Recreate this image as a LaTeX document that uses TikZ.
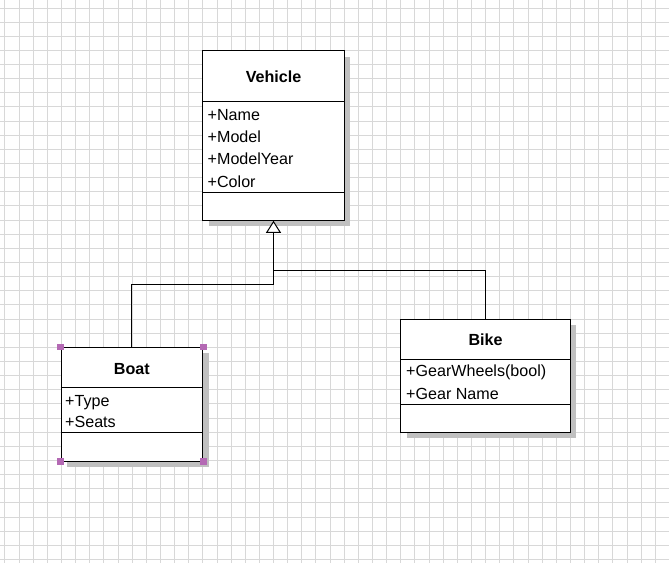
\documentclass[tikz,border=0pt]{standalone}
\usepackage{fontspec}
\setmainfont{Liberation Sans}
\usetikzlibrary{arrows.meta, shadows, calc}
\definecolor{GridGray}{HTML}{D8D8D8}
\definecolor{ShadowGray}{HTML}{C0C0C0}
\definecolor{HandlePurple}{HTML}{B469B4}

\begin{document}
\begin{tikzpicture}[
    x=1pt, y=-1pt,
    classbox/.style={rectangle, draw=black, fill=white, line width=1pt,
                     drop shadow={shadow xshift=6pt, shadow yshift=-6pt, fill=ShadowGray, opacity=1}},
    classtitle/.style={anchor=base, inner sep=0pt, font=\fontsize{16.1}{18}\selectfont\bfseries},
    classattr/.style={anchor=base west, inner sep=0pt, font=\fontsize{16.1}{18}\selectfont},
    divider/.style={line width=1pt},
    inherit/.style={line width=1pt, -{Triangle[fill=white, length=12pt, width=15pt]}},
    handle/.style={fill=HandlePurple},
    gridline/.style={GridGray, line width=1pt}
]
    % Canvas and grid
    \fill[white] (0,0) rectangle (669,563);
    \useasboundingbox (0,0) rectangle (669,563);
    \foreach \k in {0,...,46}
        \draw[gridline] ({4.9+14.14*\k},0) -- ({4.9+14.14*\k},563);
    \foreach \k in {0,...,39}
        \draw[gridline] (0,{8+14.14*\k}) -- (669,{8+14.14*\k});

    % Vehicle class
    \node[classbox, minimum width=141.6pt, minimum height=169.6pt] (vehicle) at (273.5,135.5) {};
    \node[classtitle] (vehicletitle) at (273.5,82.7) {Vehicle};
    \draw[divider] (vehicle.west |- 0,101.3) -- (vehicle.east |- 0,101.3);
    \foreach \a [count=\i] in {Name, Model, ModelYear, Color}
        \node[classattr] (vehicle-\i) at (207.5,{97.7+22.4*\i}) {+\a};
    \draw[divider] (vehicle.west |- 0,192.3) -- (vehicle.east |- 0,192.3);

    % Boat class
    \node[classbox, minimum width=141.7pt, minimum height=113.7pt] (boat) at (131.85,404.15) {};
    \node[classtitle] (boattitle) at (131.85,374.3) {Boat};
    \draw[divider] (boat.west |- 0,387.3) -- (boat.east |- 0,387.3);
    \foreach \a [count=\i] in {Type, Seats}
        \node[classattr] (boat-\i) at (65,{384.7+21.3*\i}) {+\a};
    \draw[divider] (boat.west |- 0,432.3) -- (boat.east |- 0,432.3);

    % Bike class
    \node[classbox, minimum width=169.6pt, minimum height=112.7pt] (bike) at (485.5,375.65) {};
    \node[classtitle] (biketitle) at (485.5,345.7) {Bike};
    \draw[divider] (bike.west |- 0,359.3) -- (bike.east |- 0,359.3);
    \foreach \a [count=\i] in {GearWheels(bool), Gear Name}
        \node[classattr] (bike-\i) at (406,{354.1+22.6*\i}) {+\a};
    \draw[divider] (bike.west |- 0,404.7) -- (bike.east |- 0,404.7);

    % Generalization
    \coordinate (boatjoin) at (273.5,284);
    \coordinate (bikejoin) at (273.5,270.7);
    \draw[inherit] (boat.north) |- (boatjoin) -- (vehicle.south);
    \draw[line width=1pt] (bike.north) |- (bikejoin);

    % Selection handles
    \foreach \corner in {north west, north east, south west, south east}
        \fill[handle] ($(boat.\corner)+(-3.3,-3.3)$) rectangle ($(boat.\corner)+(3.3,3.3)$);
\end{tikzpicture}
\end{document}
